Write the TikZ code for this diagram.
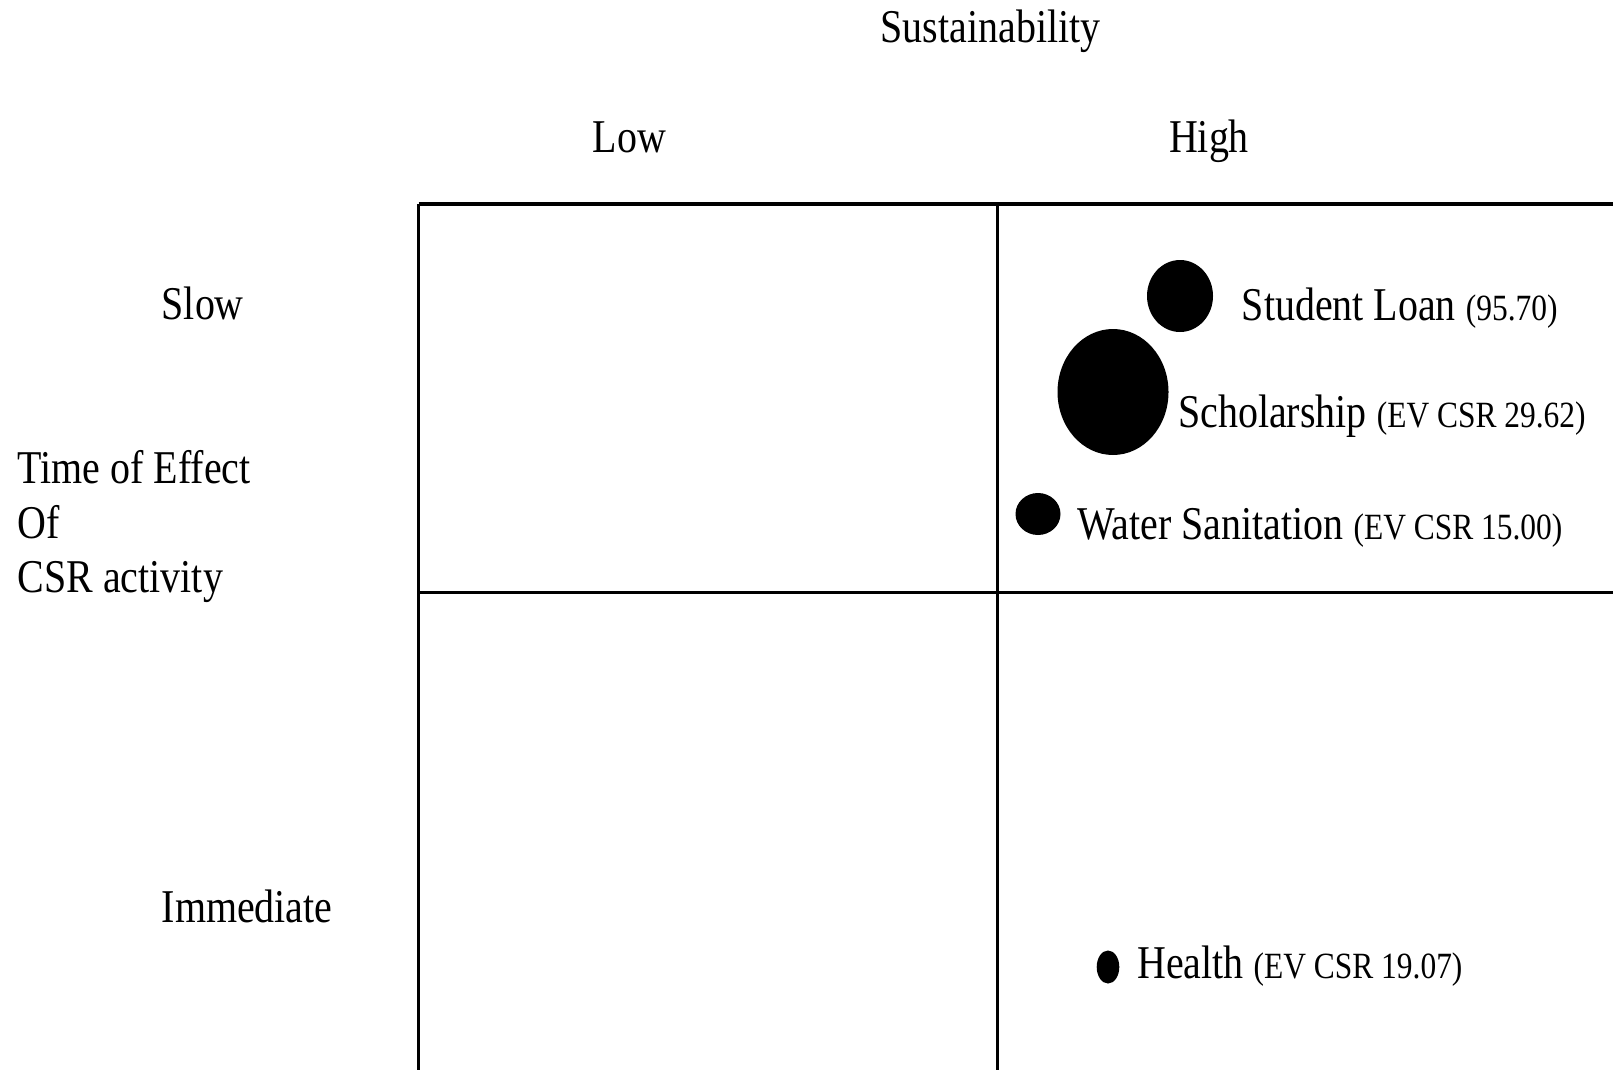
\documentclass[tikz,border=0pt]{standalone}
\usepackage{fontspec}
\setmainfont{Liberation Serif}[FakeStretch=0.85]
\usetikzlibrary{shapes.geometric}
% smaller size for the bracketed values
\newcommand\valsize{\fontsize{37}{44}\selectfont}
\begin{document}
\begin{tikzpicture}[x=1pt,y=-1pt,
  big/.style={font=\fontsize{47}{56}\selectfont, inner sep=0pt, anchor=base west},
  bigc/.style={font=\fontsize{47}{56}\selectfont, inner sep=0pt, anchor=base},
  gridline/.style={line width=3.3pt},
  dot/.style={ellipse, fill=black, inner sep=0pt}
]
\useasboundingbox (0,0) rectangle (1613,1070);

% axis headings
\node[bigc] (sust) at (990.6,43) {Sustainability};
\node[bigc] (low)  at (629.6,152) {Low};
\node[bigc] (high) at (1209,152) {High};
\node[big] (slow) at (161.5,319) {Slow};
\node[big] (imm)  at (161.5,922.7) {Immediate};
\node[big] (t1) at (17.5,483.5) {Time of Effect};
\node[big] (t2) at (17.5,538) {Of};
\node[big] (t3) at (17.5,592.5) {CSR activity};

% quadrant grid
\coordinate (gtl) at (418.7,203.7);
\coordinate (gtr) at (1613,203.7);
\coordinate (gml) at (418.7,592.5);
\coordinate (gmr) at (1613,592.5);
\coordinate (gbl) at (418.7,1070);
\coordinate (gtm) at (997.8,203.7);
\coordinate (gbm) at (997.8,1070);
\draw[line width=3.8pt] (gtl) -- (gtr);
\draw[gridline] (gml) -- (gmr);
\draw[gridline] (gtl) -- (gbl);
\draw[gridline] (gtm) -- (gbm);

% bubbles
\node[dot, minimum width=66pt, minimum height=72pt] (loan) at (1180,296) {};
\node[dot, minimum width=111pt, minimum height=126pt] (schol) at (1113,392) {};
\node[dot, minimum width=45pt, minimum height=42pt] (water) at (1038,514) {};
\node[dot, minimum width=22.6pt, minimum height=33pt] (health) at (1108,967) {};

% bubble labels
\node[big] (loanlbl) at (1241.6,320) {Student Loan {\valsize (95.70)}};
\node[big] (schollbl) at (1178,427) {Scholarship {\valsize (EV CSR 29.62)}};
\node[big] (waterlbl) at (1077,539) {Water Sanitation {\valsize (EV CSR 15.00)}};
\node[big] (healthlbl) at (1137,978) {Health {\valsize (EV CSR 19.07)}};
\end{tikzpicture}
\end{document}
